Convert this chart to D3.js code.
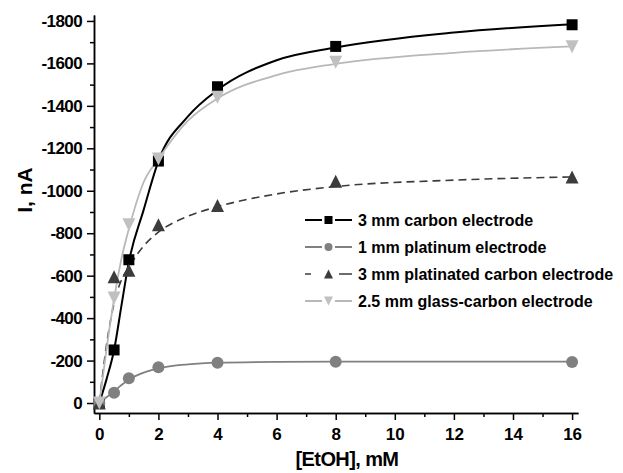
<!DOCTYPE html>
<html>
<head>
<meta charset="utf-8">
<script src="https://cdn.jsdelivr.net/npm/d3@7"></script>
<style>
  body { margin: 0; background: #fff; }
  svg { display: block; font-family: "Liberation Sans", Arial, sans-serif; font-weight: bold; }
</style>
</head>
<body>
<div id="chart"></div>
<script>
// Datos medidos (concentración en mM, corriente en nA)
const concentrations = [0, 0.5, 1, 2, 4, 8, 16];
const carbon = [0, -250, -675, -1140, -1490, -1680, -1782];
const platinum = [0, -48, -117, -168, -190, -194, -193];
const platinated = [0, -595, -625, -840, -930, -1045, -1065];
const glassCarbon = [0, -495, -840, -1150, -1440, -1605, -1678];

// Curvas de ajuste
const fitConc = [0, 0.25, 0.5, 0.75, 1, 1.5, 2, 3, 4, 6, 8, 12, 16];
const carbonFit = [0, -115, -250, -460, -665, -910, -1140, -1350, -1475, -1615, -1675, -1745, -1785];
const platinumFit = [0, -28, -55, -85, -110, -143, -163, -182, -190, -194, -195, -195, -195];
const platinatedFit = [0, -280, -470, -580, -640, -740, -805, -880, -925, -985, -1020, -1050, -1065];
const glassCarbonFit = [0, -260, -490, -680, -820, -1040, -1150, -1330, -1435, -1545, -1598, -1650, -1680];

const seriesNames = [
  "3 mm carbon electrode",
  "1 mm platinum electrode",
  "3 mm platinated carbon electrode",
  "2.5 mm glass-carbon electrode",
];

const xTicks = [0, 2, 4, 6, 8, 10, 12, 14, 16];
const yTicks = [0, -200, -400, -600, -800, -1000, -1200, -1400, -1600, -1800];

const width = 623;
const height = 473;

const series = [
  { name: seriesNames[0], values: carbon, fit: carbonFit, color: "#000", lineColor: "#000", shape: "square", dash: null, lw: 2 },
  { name: seriesNames[1], values: platinum, fit: platinumFit, color: "#808080", lineColor: "#808080", shape: "circle", dash: null, lw: 1.8 },
  { name: seriesNames[2], values: platinated, fit: platinatedFit, color: "#3c3c3c", lineColor: "#3c3c3c", shape: "up", dash: "8,5", lw: 1.6 },
  { name: seriesNames[3], values: glassCarbon, fit: glassCarbonFit, color: "#c0c0c0", lineColor: "#b8b8b8", shape: "down", dash: null, lw: 1.8 },
];

const svg = d3
  .select("div#chart")
  .append("svg")
  .attr("width", width)
  .attr("height", height);

// Escalas
const x = d3.scaleLinear().domain([-0.18, 16.2]).range([94, 578]);
const y = d3.scaleLinear().domain([47, -1828]).range([413, 15]);

// Ejes: ticks menores primero, luego mayores con etiquetas
const axisGroup = svg.append("g");

const minorX = d3.range(1, 16, 2);
const minorY = d3.range(-100, -1900, -200);

axisGroup
  .append("g")
  .attr("transform", `translate(0, ${y.range()[0]})`)
  .call(d3.axisBottom(x).tickValues(minorX).tickSize(4).tickFormat("").tickSizeOuter(0));
axisGroup
  .append("g")
  .attr("transform", `translate(${x.range()[0]}, 0)`)
  .call(d3.axisLeft(y).tickValues(minorY).tickSize(4).tickFormat("").tickSizeOuter(0));

const xAxisGroup = axisGroup
  .append("g")
  .attr("transform", `translate(0, ${y.range()[0]})`)
  .call(d3.axisBottom(x).tickValues(xTicks).tickSize(7).tickPadding(8).tickFormat((d) => String(d)).tickSizeOuter(0));
const yAxisGroup = axisGroup
  .append("g")
  .attr("transform", `translate(${x.range()[0]}, 0)`)
  .call(d3.axisLeft(y).tickValues(yTicks).tickSize(7).tickPadding(5).tickFormat((d) => String(d)).tickSizeOuter(0));

axisGroup.selectAll("path.domain, line").attr("stroke", "#000").attr("stroke-width", 1.5);
axisGroup.selectAll("text").attr("fill", "#000").style("font-size", "17px").style("font-family", "Liberation Sans, Arial, sans-serif").style("font-weight", "bold");
yAxisGroup.selectAll("text").style("letter-spacing", "-0.6px");

// Títulos de los ejes
svg
  .append("text")
  .attr("transform", "translate(32, 190) rotate(-90)")
  .attr("text-anchor", "middle")
  .style("font-size", "21px")
  .text("I, nA");

svg
  .append("text")
  .attr("x", 347)
  .attr("y", 466)
  .attr("text-anchor", "middle")
  .style("font-size", "20px")
  .style("letter-spacing", "-0.6px")
  .text("[EtOH], mM");

// Formas de marcador
const markerPath = (shape, s) => {
  const h = s / 2;
  if (shape === "square") return `M${-h},${-h}H${h}V${h}H${-h}Z`;
  if (shape === "circle") return d3.symbol(d3.symbolCircle, Math.PI * h * h)();
  if (shape === "up") return `M0,${-h}L${h},${h}L${-h},${h}Z`;
  return `M0,${h}L${h},${-h}L${-h},${-h}Z`;
};

// Curvas
const line = d3
  .line()
  .x((d) => x(d[0]))
  .y((d) => y(d[1]))
  .curve(d3.curveMonotoneX);

const elementGroup = svg.append("g");

elementGroup
  .selectAll("path.fit")
  .data(series)
  .join("path")
  .attr("class", "fit")
  .attr("fill", "none")
  .attr("stroke", (d) => d.lineColor)
  .attr("stroke-width", (d) => d.lw)
  .attr("stroke-dasharray", (d) => d.dash)
  .attr("d", (d) => line(fitConc.map((c, i) => [c, d.fit[i]])));

// Marcadores
series.forEach((s) => {
  elementGroup
    .append("g")
    .selectAll("path")
    .data(concentrations.map((c, i) => [c, s.values[i]]))
    .join("path")
    .attr("transform", (d) => `translate(${x(d[0])}, ${y(d[1])})`)
    .attr("d", markerPath(s.shape, s.shape === "square" ? 11 : s.shape === "circle" ? 12 : 13))
    .attr("fill", s.color);
});

// Leyenda
const legendGroup = svg.append("g");
const legendRow = legendGroup
  .selectAll("g")
  .data(series)
  .join("g")
  .attr("transform", (d, i) => `translate(0, ${220 + i * 27})`);

legendRow
  .append("line")
  .attr("x1", 305)
  .attr("x2", 352)
  .attr("stroke", (d) => d.lineColor)
  .attr("stroke-width", (d) => d.lw)
  .attr("stroke-dasharray", (d) => (d.dash ? "6,16,6" : null));

legendRow
  .append("rect")
  .attr("x", 322)
  .attr("y", -6)
  .attr("width", 13)
  .attr("height", 12)
  .attr("fill", "#fff");

legendRow
  .append("path")
  .attr("transform", "translate(328.5, 0)")
  .attr("d", (d) => markerPath(d.shape, d.shape === "square" || d.shape === "circle" ? 8 : 9))
  .attr("fill", (d) => d.color);

legendRow
  .append("text")
  .attr("x", 358)
  .attr("y", 6)
  .style("font-size", "16px")
  .text((d) => d.name);
</script>
</body>
</html>
